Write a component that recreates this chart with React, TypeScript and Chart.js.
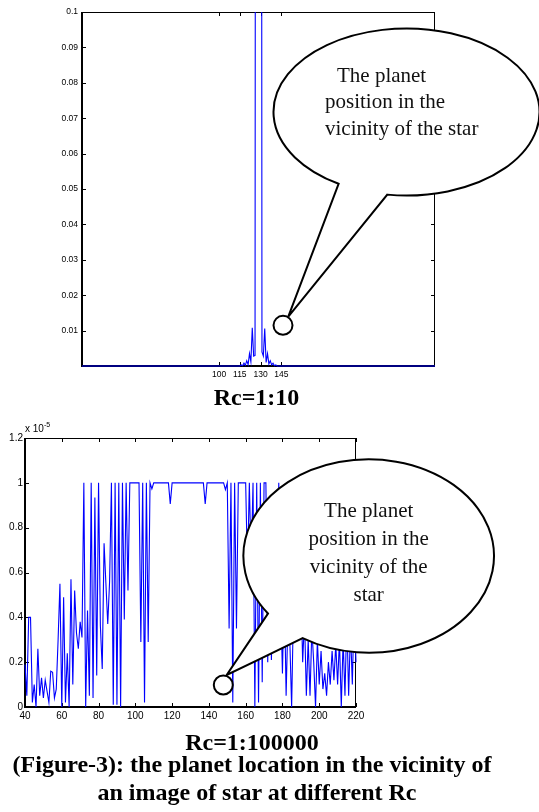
import React, { useEffect, useRef } from 'react';
import { Chart, registerables } from 'chart.js';

Chart.register(...registerables);

// ---------- Top chart (Rc = 1:10) ----------
const topIndex = [1, 115, 116, 117, 118, 119, 120, 121, 122, 123, 124, 125, 126, 127, 128, 129, 130, 131, 132, 133, 134, 135, 136, 137, 138, 139, 140, 141, 142, 256];
const topValues = [0, 0, 0.0003, 0.0001, 0.0008, 0.0002, 0.0015, 0.0004, 0.0035, 0.0012, 0.0108, 0.0028, 0.003, 0.6, 1.0, 1.0, 0.6, 0.004, 0.0028, 0.0106, 0.001, 0.0035, 0.0006, 0.0015, 0.0003, 0.0008, 0.0001, 0.0003, 0, 0];
const topXTicks = [100, 115, 130, 145];
const topYTicks = [0, 0.01, 0.02, 0.03, 0.04, 0.05, 0.06, 0.07, 0.08, 0.09, 0.1];

// ---------- Bottom chart (Rc = 1:100000), values in units of 1e-5 ----------
const bottomStart = 40;
const bottomValues = [
  0.19, 0.05, 0.40, 0.40, 0.02, 0.10, 0.00, 0.26, 0.05, 0.13,
  0.04, 0.12, 0.07, 0.02, 0.16, 0.155, 0.04, 0.08, 0.30, 0.55,
  0.00, 0.49, 0.02, 0.24, 0.00, 0.57, 0.10, 0.52, 0.33, 0.26,
  0.38, 0.31, 1.00, 0.00, 0.43, 0.05, 1.00, 0.04, 0.935, 0.14,
  1.00, 0.36, 0.17, 0.73, 0.55, 0.37, 0.56, 1.00, 0.01, 1.00,
  0.01, 1.00, 0.00, 1.00, 0.39, 1.00, 0.52, 1.00, 1.00, 1.00,
  1.00, 1.00, 1.00, 0.29, 1.00, 0.02, 1.00, 0.29, 1.00, 0.973,
  1.00, 1.00, 1.00, 1.00, 1.00, 1.00, 1.00, 1.00, 1.00, 0.906,
  1.00, 1.00, 1.00, 1.00, 1.00, 1.00, 1.00, 1.00, 1.00, 1.00,
  1.00, 1.00, 1.00, 1.00, 1.00, 1.00, 1.00, 1.00, 0.906, 1.00,
  1.00, 1.00, 1.00, 1.00, 1.00, 1.00, 1.00, 1.00, 1.00, 0.97,
  1.00, 0.35, 1.00, 0.02, 1.00, 0.35, 1.00, 1.00, 1.00, 1.00,
  1.00, 0.60, 1.00, 0.63, 1.00, 0.00, 1.00, 0.02, 1.00, 0.11,
  1.00, 1.00, 0.20, 0.70, 0.21, 0.60, 0.45, 0.35, 1.00, 0.50,
  0.15, 0.55, 0.05, 0.40, 0.30, 0.00, 0.45, 0.35, 0.50, 0.35,
  0.55, 0.20, 0.40, 0.05, 0.30, 0.05, 0.35, 0.20, 0.00, 0.30,
  0.10, 0.25, 0.08, 0.15, 0.05, 0.20, 0.10, 0.25, 0.12, 0.28,
  0.10, 0.30, 0.00, 0.30, 0.05, 0.40, 0.05, 0.35, 0.10, 0.45,
  0.20,
];
const bottomIndex = bottomValues.map((_, i) => bottomStart + i);
const bottomXTicks = [40, 60, 80, 100, 120, 140, 160, 180, 200, 220];
const bottomYTicks = [0, 0.2, 0.4, 0.6, 0.8, 1, 1.2];

const SANS = "'Liberation Sans', Arial, Helvetica, sans-serif";
const SERIF = "'Liberation Serif', 'Times New Roman', serif";

function boxPlugin(tickLen: number) {
  return {
    id: 'matlabBox',
    beforeDatasetsDraw(chart: any) {
      const { ctx, chartArea: a } = chart;
      const xs = chart.scales.x;
      const ys = chart.scales.y;
      ctx.save();
      ctx.strokeStyle = '#000';
      ctx.lineWidth = 1;
      ctx.beginPath();
      for (const t of xs.ticks) {
        const p = Math.round(xs.getPixelForValue(t.value)) + 0.5;
        ctx.moveTo(p, a.bottom);
        ctx.lineTo(p, a.bottom - tickLen);
        ctx.moveTo(p, a.top);
        ctx.lineTo(p, a.top + tickLen);
      }
      for (const t of ys.ticks) {
        const p = Math.round(ys.getPixelForValue(t.value)) + 0.5;
        ctx.moveTo(a.left, p);
        ctx.lineTo(a.left + tickLen, p);
        ctx.moveTo(a.right, p);
        ctx.lineTo(a.right - tickLen, p);
      }
      ctx.stroke();
      ctx.beginPath();
      ctx.moveTo(a.left, a.top + 0.5);
      ctx.lineTo(a.right, a.top + 0.5);
      ctx.moveTo(a.right - 0.5, a.top);
      ctx.lineTo(a.right - 0.5, a.bottom);
      ctx.stroke();
      ctx.lineWidth = 2;
      ctx.beginPath();
      ctx.moveTo(a.left, a.top);
      ctx.lineTo(a.left, a.bottom);
      ctx.lineTo(a.right, a.bottom);
      ctx.stroke();
      ctx.restore();
    },
  };
}

function makeChart(
  canvas: HTMLCanvasElement,
  xs: number[],
  ys: number[],
  xTicks: number[],
  yTicks: number[],
  xMin: number,
  xMax: number,
  yMin: number,
  yMax: number,
  area: { left: number; top: number; right: number; bottom: number },
  fontSize: number,
  xPad: number,
  yPad: number,
  yLabel: (v: number) => string,
) {
  const W = canvas.width;
  const H = canvas.height;
  return new Chart(canvas, {
    type: 'line',
    data: {
      datasets: [
        {
          data: xs.map((x, i) => ({ x, y: ys[i] })),
          borderColor: '#0000ff',
          borderWidth: 1.1,
          pointRadius: 0,
          tension: 0,
          fill: false,
          clip: { left: 1, top: 0, right: 1, bottom: 2 } as any,
        },
      ],
    },
    options: {
      animation: false,
      responsive: false,
      devicePixelRatio: 1,
      events: [],
      layout: {
        autoPadding: false,
        padding: { left: 0, top: area.top, right: W - area.right, bottom: 0 },
      } as any,
      plugins: { legend: { display: false }, tooltip: { enabled: false } },
      scales: {
        x: {
          type: 'linear',
          min: xMin,
          max: xMax,
          grid: { display: false, drawTicks: false },
          border: { display: false },
          afterBuildTicks: (s: any) => {
            s.ticks = xTicks.map((v) => ({ value: v }));
          },
          afterFit: (s: any) => {
            s.height = H - area.bottom;
          },
          ticks: {
            autoSkip: false,
            maxRotation: 0,
            padding: xPad,
            color: '#000',
            font: { family: SANS, size: fontSize },
            callback: (v: any) => String(v),
          },
        },
        y: {
          type: 'linear',
          min: yMin,
          max: yMax,
          grid: { display: false, drawTicks: false },
          border: { display: false },
          afterBuildTicks: (s: any) => {
            s.ticks = yTicks.map((v) => ({ value: v }));
          },
          afterFit: (s: any) => {
            s.width = area.left;
          },
          ticks: {
            autoSkip: false,
            padding: yPad,
            color: '#000',
            font: { family: SANS, size: fontSize },
            callback: (v: any) => yLabel(Number(v)),
          },
        },
      },
    },
    plugins: [boxPlugin(4)],
  } as any);
}

function bubblePath(cx: number, cy: number, rx: number, ry: number, a1: number, a2: number, ax: number, ay: number) {
  const r = Math.PI / 180;
  const p1x = cx + rx * Math.cos(a1 * r);
  const p1y = cy + ry * Math.sin(a1 * r);
  const p2x = cx + rx * Math.cos(a2 * r);
  const p2y = cy + ry * Math.sin(a2 * r);
  return `M ${p2x} ${p2y} A ${rx} ${ry} 0 1 0 ${p1x} ${p1y} L ${ax} ${ay} Z`;
}

export default function App() {
  const topRef = useRef<HTMLCanvasElement>(null);
  const botRef = useRef<HTMLCanvasElement>(null);

  useEffect(() => {
    const c1 = makeChart(
      topRef.current!, topIndex, topValues, topXTicks, topYTicks,
      1, 256, 0, 0.1,
      { left: 82, top: 12, right: 435, bottom: 366 },
      8.5, 4, 4,
      (v) => (v === 0 ? '' : String(v)),
    );
    const c2 = makeChart(
      botRef.current!, bottomIndex, bottomValues, bottomXTicks, bottomYTicks,
      40, 220, 0, 1.2,
      { left: 25, top: 18, right: 356, bottom: 287 },
      10, 3, 2,
      (v) => String(v),
    );
    return () => {
      c1.destroy();
      c2.destroy();
    };
  }, []);

  const stroke = { fill: '#fff', stroke: '#000', strokeWidth: 2 } as const;

  return (
    <div style={{ position: 'absolute', left: 0, top: 0, width: 539, height: 812, background: '#fff', overflow: 'hidden' }}>
      <canvas ref={topRef} width={470} height={395} style={{ position: 'absolute', left: 0, top: 0 }} />
      <canvas ref={botRef} width={390} height={320} style={{ position: 'absolute', left: 0, top: 420 }} />
      <svg width={539} height={812} style={{ position: 'absolute', left: 0, top: 0 }}>
        {/* top callout */}
        <path d={bubblePath(406.5, 112, 133, 83.5, 120.7, 98.3, 288.3, 316.7)} {...stroke} strokeLinejoin="miter" />
        <circle cx={283} cy={325.3} r={9.5} {...stroke} />
        <g fontFamily={SERIF} fontSize={21} fill="#111">
          <text x={337} y={81.5}>The planet</text>
          <text x={325} y={108}>position in the</text>
          <text x={325} y={134.5}>vicinity of the star</text>
        </g>
        {/* bottom callout */}
        <path d={bubblePath(368.7, 556, 125.3, 96.7, 143.5, 121.8, 226.7, 675)} {...stroke} strokeLinejoin="miter" />
        <circle cx={223.3} cy={685} r={9.5} {...stroke} />
        <g fontFamily={SERIF} fontSize={21} fill="#111" textAnchor="middle">
          <text x={368.7} y={517}>The planet</text>
          <text x={368.7} y={545}>position in the</text>
          <text x={368.7} y={573}>vicinity of the</text>
          <text x={368.7} y={601}>star</text>
        </g>
        {/* exponent label */}
        <text x={25} y={432} fontFamily={SANS} fontSize={10} fill="#000">
          x 10<tspan fontSize={7} dy={-5}>-5</tspan>
        </text>
        {/* captions */}
        <g fontFamily={SERIF} fontWeight="bold" fontSize={24} fill="#000" textAnchor="middle">
          <text x={256.5} y={405}>Rc=1:10</text>
          <text x={252} y={750}>Rc=1:100000</text>
          <text x={252} y={772}>(Figure-3): the planet location in the vicinity of</text>
          <text x={257} y={800}>an image of star at different Rc</text>
        </g>
      </svg>
    </div>
  );
}
